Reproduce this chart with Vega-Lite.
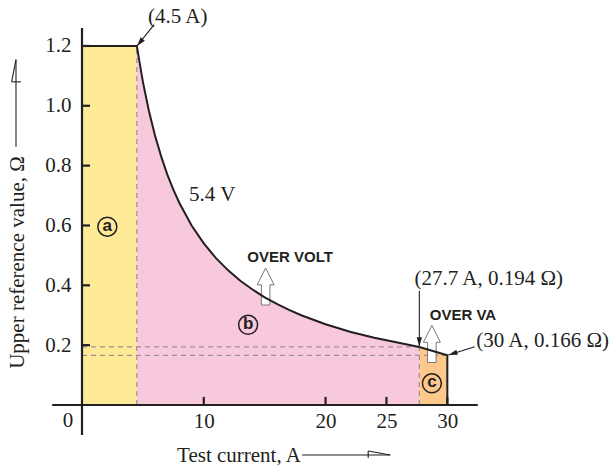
{
  "$schema": "https://vega.github.io/schema/vega-lite/v6.json",
  "width": 397,
  "height": 377,
  "autosize": "none",
  "padding": {"left": 82, "top": 28, "right": 133, "bottom": 63},
  "background": "white",
  "config": {"view": {"stroke": null}},
  "encoding": {
    "x": {
      "field": "x", "type": "quantitative",
      "scale": {"domain": [0, 32.6], "nice": false, "zero": false},
      "axis": {
        "values": [10, 20, 25, 30], "domain": false, "grid": false, "ticks": false,
        "labelFont": "Liberation Serif", "labelFontSize": 21, "labelColor": "#231f20",
        "labelPadding": 5, "labelFlush": false, "labelOverlap": false,
        "title": "Test current, A", "titleFont": "Liberation Serif", "titleFontSize": 21,
        "titleFontWeight": "normal", "titleColor": "#231f20",
        "titleX": 156.5, "titleY": 50, "titleAlign": "center", "titleBaseline": "middle"
      }
    },
    "y": {
      "field": "y", "type": "quantitative",
      "scale": {"domain": [0, 1.26], "nice": false, "zero": false},
      "axis": {
        "values": [0.2, 0.4, 0.6, 0.8, 1.0, 1.2], "format": ".1f", "domain": false, "grid": false, "ticks": false,
        "labelFont": "Liberation Serif", "labelFontSize": 21, "labelColor": "#231f20",
        "labelPadding": 11, "labelFlush": false, "labelOverlap": false,
        "title": "Upper reference value, Ω", "titleFont": "Liberation Serif", "titleFontSize": 21,
        "titleFontWeight": "normal", "titleColor": "#231f20",
        "titleX": -64.5, "titleY": 234, "titleAngle": -90, "titleAlign": "center", "titleBaseline": "middle"
      }
    }
  },
  "datasets": {
    "curve": [
      {"x": 4.5, "y": 1.2}, {"x": 5, "y": 1.08}, {"x": 5.5, "y": 0.982}, {"x": 6, "y": 0.9},
      {"x": 6.5, "y": 0.831}, {"x": 7, "y": 0.771}, {"x": 7.5, "y": 0.72}, {"x": 8, "y": 0.675},
      {"x": 9, "y": 0.6}, {"x": 10, "y": 0.54}, {"x": 11, "y": 0.491}, {"x": 12, "y": 0.45},
      {"x": 13, "y": 0.415}, {"x": 14, "y": 0.386}, {"x": 15, "y": 0.36}, {"x": 16, "y": 0.338},
      {"x": 17, "y": 0.318}, {"x": 18, "y": 0.3}, {"x": 20, "y": 0.27}, {"x": 22, "y": 0.245},
      {"x": 24, "y": 0.225}, {"x": 26, "y": 0.208}, {"x": 27.7, "y": 0.194}
    ],
    "outline": [
      {"i": 0, "x": 0, "y": 1.2}, {"i": 1, "x": 4.5, "y": 1.2}, {"i": 2, "x": 5, "y": 1.08},
      {"i": 3, "x": 5.5, "y": 0.982}, {"i": 4, "x": 6, "y": 0.9}, {"i": 5, "x": 6.5, "y": 0.831},
      {"i": 6, "x": 7, "y": 0.771}, {"i": 7, "x": 7.5, "y": 0.72}, {"i": 8, "x": 8, "y": 0.675},
      {"i": 9, "x": 9, "y": 0.6}, {"i": 10, "x": 10, "y": 0.54}, {"i": 11, "x": 11, "y": 0.491},
      {"i": 12, "x": 12, "y": 0.45}, {"i": 13, "x": 13, "y": 0.415}, {"i": 14, "x": 14, "y": 0.386},
      {"i": 15, "x": 15, "y": 0.36}, {"i": 16, "x": 16, "y": 0.338}, {"i": 17, "x": 17, "y": 0.318},
      {"i": 18, "x": 18, "y": 0.3}, {"i": 19, "x": 20, "y": 0.27}, {"i": 20, "x": 22, "y": 0.245},
      {"i": 21, "x": 24, "y": 0.225}, {"i": 22, "x": 26, "y": 0.208}, {"i": 23, "x": 27.7, "y": 0.194},
      {"i": 24, "x": 30, "y": 0.166}, {"i": 25, "x": 30, "y": 0}
    ]
  },
  "layer": [
    {
      "data": {"values": [{"x": 0, "x2": 4.5, "y": 0, "y2": 1.2}]},
      "mark": {"type": "rect", "fill": "#FDE996"},
      "encoding": {"x2": {"field": "x2"}, "y2": {"field": "y2"}}
    },
    {
      "data": {"name": "curve"},
      "mark": {"type": "area", "fill": "#F8C8DC"}
    },
    {
      "data": {"values": [{"x": 27.7, "y": 0.194}, {"x": 30, "y": 0.166}]},
      "mark": {"type": "area", "fill": "#FCC88C"}
    },
    {
      "data": {"values": [
        {"x": 4.5, "x2": 4.5, "y": 0, "y2": 1.2},
        {"x": 27.7, "x2": 27.7, "y": 0, "y2": 0.194},
        {"x": 0, "x2": 27.7, "y": 0.194, "y2": 0.194},
        {"x": 0, "x2": 30, "y": 0.166, "y2": 0.166}
      ]},
      "mark": {"type": "rule", "color": "#9e8f8f", "strokeWidth": 1.2, "strokeDash": [5, 4]},
      "encoding": {"x2": {"field": "x2"}, "y2": {"field": "y2"}}
    },
    {
      "data": {"values": [{"x": 15.08, "y": 0.396}, {"x": 28.73, "y": 0.204}]},
      "mark": {"type": "point", "shape": "M0,-1L0.46,-0.09L0.23,-0.09L0.23,1L-0.23,1L-0.23,-0.09L-0.46,-0.09Z",
               "size": 1369, "filled": true, "fill": "white", "stroke": "#777777", "strokeWidth": 1, "opacity": 1}
    },
    {
      "data": {"name": "outline"},
      "mark": {"type": "line", "color": "#231f20", "strokeWidth": 2},
      "encoding": {"order": {"field": "i", "type": "quantitative"}}
    },
    {
      "data": {"values": [
        {"x": -2.45, "x2": 32.5, "y": 0, "y2": 0},
        {"x": 0, "x2": 0, "y": -0.1, "y2": 1.26},
        {"x": 10, "x2": 10, "y": 0, "y2": 0.027},
        {"x": 20, "x2": 20, "y": 0, "y2": 0.027},
        {"x": 25, "x2": 25, "y": 0, "y2": 0.027},
        {"x": 30, "x2": 30, "y": 0, "y2": 0.027},
        {"x": 0, "x2": 0.66, "y": 0.2, "y2": 0.2},
        {"x": 0, "x2": 0.66, "y": 0.4, "y2": 0.4},
        {"x": 0, "x2": 0.66, "y": 0.6, "y2": 0.6},
        {"x": 0, "x2": 0.66, "y": 0.8, "y2": 0.8},
        {"x": 0, "x2": 0.66, "y": 1.0, "y2": 1.0},
        {"x": 0, "x2": 0.66, "y": 1.2, "y2": 1.2}
      ]},
      "mark": {"type": "rule", "color": "#231f20", "strokeWidth": 2.2},
      "encoding": {"x2": {"field": "x2"}, "y2": {"field": "y2"}}
    },
    {
      "data": {"values": [
        {"x": 5.92, "x2": 4.52, "y": 1.271, "y2": 1.2},
        {"x": 27.7, "x2": 27.7, "y": 0.382, "y2": 0.196},
        {"x": 32.24, "x2": 30.1, "y": 0.195, "y2": 0.167},
        {"x": 18.08, "x2": 25.31, "y": -0.167, "y2": -0.167},
        {"x": 23.5, "x2": 25.31, "y": -0.154, "y2": -0.167},
        {"x": 23.5, "x2": 23.5, "y": -0.154, "y2": -0.177},
        {"x": -5.42, "x2": -5.42, "y": 0.863, "y2": 1.154},
        {"x": -5.42, "x2": -5.78, "y": 1.154, "y2": 1.08},
        {"x": -5.78, "x2": -5.01, "y": 1.08, "y2": 1.08}
      ]},
      "mark": {"type": "rule", "color": "#231f20", "strokeWidth": 1.1},
      "encoding": {"x2": {"field": "x2"}, "y2": {"field": "y2"}}
    },
    {
      "data": {"values": [{"x": 4.52, "y": 1.2}]},
      "mark": {"type": "point", "shape": "M0,0L-0.3,1L0.3,1Z", "size": 324, "filled": true, "color": "#231f20", "opacity": 1, "angle": 219}
    },
    {
      "data": {"values": [{"x": 27.7, "y": 0.196}]},
      "mark": {"type": "point", "shape": "M0,0L-0.3,1L0.3,1Z", "size": 324, "filled": true, "color": "#231f20", "opacity": 1, "angle": 180}
    },
    {
      "data": {"values": [{"x": 30.1, "y": 0.167}]},
      "mark": {"type": "point", "shape": "M0,0L-0.3,1L0.3,1Z", "size": 324, "filled": true, "color": "#231f20", "opacity": 1, "angle": 252}
    },
    {
      "data": {"values": [
        {"x": 2.08, "y": 0.596, "t": "a"},
        {"x": 13.64, "y": 0.268, "t": "b"},
        {"x": 28.73, "y": 0.0725, "t": "c"}
      ]},
      "layer": [
        {"mark": {"type": "point", "shape": "circle", "size": 360, "filled": false, "stroke": "#231f20", "strokeWidth": 1.5, "opacity": 1}},
        {"mark": {"type": "text", "font": "Liberation Sans", "fontWeight": "bold", "fontSize": 17, "color": "#231f20", "align": "center", "baseline": "middle", "dy": -1},
         "encoding": {"text": {"field": "t"}}}
      ]
    },
    {
      "data": {"values": [
        {"x": 5.42, "y": 1.298, "t": "(4.5 A)"},
        {"x": 8.79, "y": 0.702, "t": "5.4 V"},
        {"x": 27.3, "y": 0.421, "t": "(27.7 A, 0.194 Ω)"},
        {"x": 32.37, "y": 0.214, "t": "(30 A, 0.166 Ω)"}
      ]},
      "mark": {"type": "text", "font": "Liberation Serif", "fontSize": 21, "color": "#231f20", "align": "left", "baseline": "middle"},
      "encoding": {"text": {"field": "t"}}
    },
    {
      "data": {"values": [{"x": -1.15, "y": -0.052, "t": "0"}]},
      "mark": {"type": "text", "font": "Liberation Serif", "fontSize": 21, "color": "#231f20", "align": "center", "baseline": "middle"},
      "encoding": {"text": {"field": "t"}}
    },
    {
      "data": {"values": [
        {"x": 17.09, "y": 0.495, "t": "OVER VOLT"},
        {"x": 31.28, "y": 0.301, "t": "OVER VA"}
      ]},
      "mark": {"type": "text", "font": "Liberation Sans", "fontWeight": "bold", "fontSize": 15, "color": "#231f20", "align": "center", "baseline": "middle"},
      "encoding": {"text": {"field": "t"}}
    }
  ]
}
